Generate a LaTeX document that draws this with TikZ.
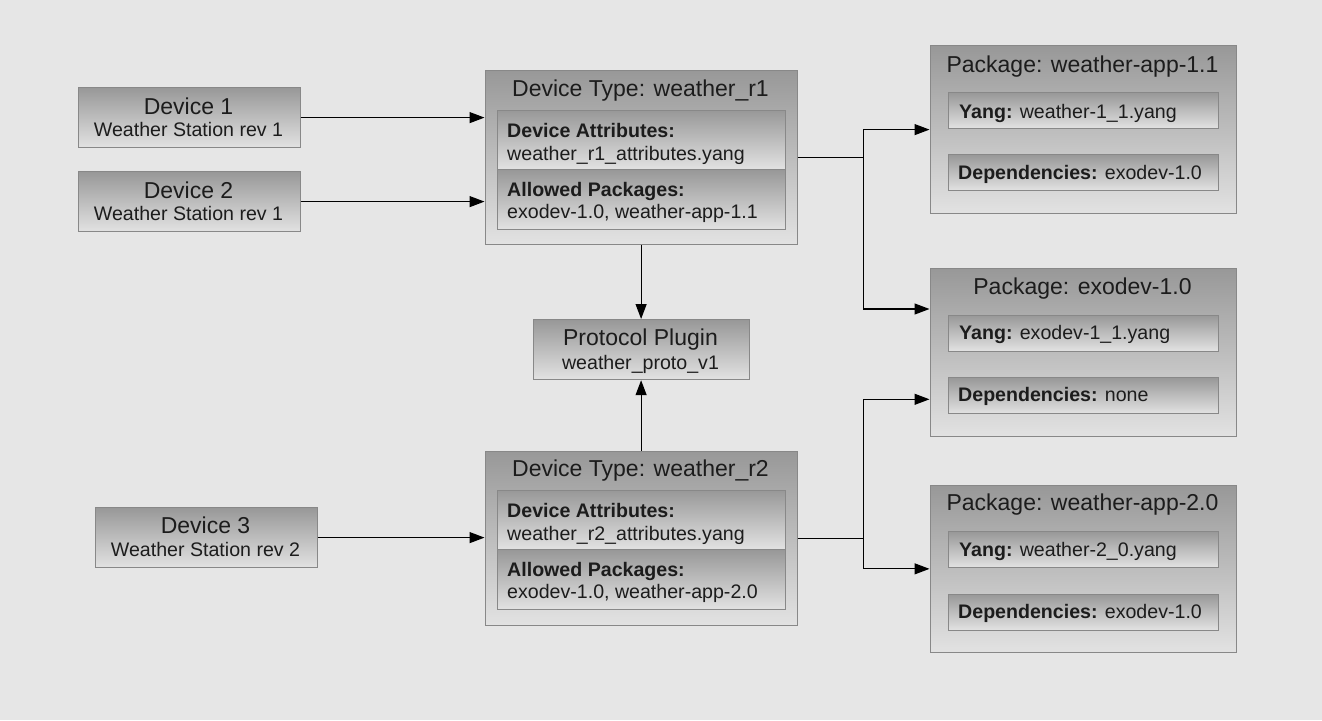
\documentclass[tikz,border=0pt]{standalone}
\usepackage{fontspec}
\setmainfont{Liberation Sans}
\usetikzlibrary{arrows.meta}
\definecolor{bgc}{RGB}{230,230,230}
\definecolor{topc}{RGB}{152,152,152}
\definecolor{botc}{RGB}{226,226,226}
\definecolor{edgec}{RGB}{136,136,136}
\definecolor{txtc}{RGB}{28,28,28}
\begin{document}
\begin{tikzpicture}[x=1pt,y=-1pt,
  gbox/.style={draw=edgec, line width=1.2pt, top color=topc, bottom color=botc,
    anchor=north west, inner sep=0pt},
  ttl/.style={font=\fontsize{23}{26}\selectfont, text=txtc, inner sep=0pt, anchor=base},
  sub/.style={font=\fontsize{19.6}{22}\selectfont, text=txtc, inner sep=0pt, anchor=base},
  lft/.style={sub, anchor=base west},
  arr/.style={draw=black, line width=1.2pt, -{Triangle[length=15pt,width=11pt]}},
  ln/.style={draw=black, line width=1.2pt}]
\path[use as bounding box, fill=bgc] (0,0) rectangle (1322,720);

% Devices
\node[gbox, minimum width=222pt, minimum height=60pt] (d1) at (77.5,87) {};
\node[ttl] (d1t) at (188.5,114.3) {Device 1};
\node[sub] (d1s) at (188.5,136.7) {Weather Station rev 1};
\node[gbox, minimum width=222pt, minimum height=60pt] (d2) at (77.5,171) {};
\node[ttl] (d2t) at (188.5,198.3) {Device 2};
\node[sub] (d2s) at (188.5,220.7) {Weather Station rev 1};
\node[gbox, minimum width=222pt, minimum height=60pt] (d3) at (94.5,507) {};
\node[ttl] (d3t) at (205.5,533.5) {Device 3};
\node[sub] (d3s) at (205.5,556.7) {Weather Station rev 2};

% Device type r1
\node[gbox, minimum width=312pt, minimum height=174pt] (r1) at (484.5,69.5) {};
\node[ttl] (r1t) at (640.5,96) {Device Type: weather\_r1};
\node[gbox, minimum width=288pt, minimum height=59.5pt] (a1) at (496.5,109.5) {};
\node[gbox, minimum width=288pt, minimum height=60pt] (p1) at (496.5,169) {};
\node[lft] (a1a) at (507,137.7) {\textbf{Device Attributes:}};
\node[lft] (a1b) at (507,160) {weather\_r1\_attributes.yang};
\node[lft] (p1a) at (507,196) {\textbf{Allowed Packages:}};
\node[lft] (p1b) at (507,218.3) {exodev-1.0, weather-app-1.1};

% Protocol plugin
\node[gbox, minimum width=216pt, minimum height=60pt] (pp) at (532.5,319) {};
\node[ttl] (ppt) at (640.5,345.7) {Protocol Plugin};
\node[sub] (pps) at (640.5,369) {weather\_proto\_v1};

% Device type r2
\node[gbox, minimum width=312pt, minimum height=174pt] (r2) at (484.5,450.5) {};
\node[ttl] (r2t) at (640.5,476) {Device Type: weather\_r2};
\node[gbox, minimum width=288pt, minimum height=59.5pt] (a2) at (496.5,489.5) {};
\node[gbox, minimum width=288pt, minimum height=60pt] (p2) at (496.5,549) {};
\node[lft] (a2a) at (507,517.7) {\textbf{Device Attributes:}};
\node[lft] (a2b) at (507,540) {weather\_r2\_attributes.yang};
\node[lft] (p2a) at (507,576) {\textbf{Allowed Packages:}};
\node[lft] (p2b) at (507,598.3) {exodev-1.0, weather-app-2.0};

% Package weather-app-1.1
\node[gbox, minimum width=306pt, minimum height=168pt] (w1) at (929.5,45) {};
\node[ttl] (w1t) at (1082.5,72.3) {Package: weather-app-1.1};
\node[gbox, minimum width=270pt, minimum height=36pt] (w1y) at (947.5,92) {};
\node[gbox, minimum width=270pt, minimum height=36pt] (w1d) at (947.5,154) {};
\node[lft] (w1yt) at (959,118) {\textbf{Yang:} weather-1\_1.yang};
\node[lft] (w1dt) at (958,179.5) {\textbf{Dependencies:} exodev-1.0};

% Package exodev-1.0
\node[gbox, minimum width=306pt, minimum height=168.5pt] (ex) at (929.5,267.5) {};
\node[ttl] (ext) at (1082.5,294.3) {Package: exodev-1.0};
\node[gbox, minimum width=270pt, minimum height=36pt] (exy) at (947.5,314.5) {};
\node[gbox, minimum width=270pt, minimum height=36pt] (exd) at (947.5,377) {};
\node[lft] (exyt) at (959,339.5) {\textbf{Yang:} exodev-1\_1.yang};
\node[lft] (exdt) at (958,401.5) {\textbf{Dependencies:} none};

% Package weather-app-2.0
\node[gbox, minimum width=306pt, minimum height=167.5pt] (w2) at (929.5,484.5) {};
\node[ttl] (w2t) at (1082.5,510.5) {Package: weather-app-2.0};
\node[gbox, minimum width=270pt, minimum height=36pt] (w2y) at (947.5,531) {};
\node[gbox, minimum width=270pt, minimum height=36pt] (w2d) at (947.5,593.5) {};
\node[lft] (w2yt) at (959,556.5) {\textbf{Yang:} weather-2\_0.yang};
\node[lft] (w2dt) at (958,618) {\textbf{Dependencies:} exodev-1.0};

% Connectors
\draw[arr] (d1.east) -- (d1.east -| r1.west);
\draw[arr] (d2.east) -- (d2.east -| r1.west);
\draw[arr] (d3.east) -- (d3.east -| r2.west);
\draw[arr] (r1.south) -- (pp.north);
\draw[arr] (r2.north) -- (pp.south);

\coordinate (j1) at (r1.east -| 863.3,0);
\coordinate (e1) at (929.5,309);
\coordinate (j2) at (r2.east -| 863.3,0);
\coordinate (e2) at (929.5,399.3);
\draw[ln] (r1.east) -- (j1);
\draw[arr] (j1) |- (w1.west);
\draw[arr] (j1) |- (e1);
\draw[ln] (r2.east) -- (j2);
\draw[arr] (j2) |- (e2);
\draw[arr] (j2) |- (w2.west);
\end{tikzpicture}
\end{document}
